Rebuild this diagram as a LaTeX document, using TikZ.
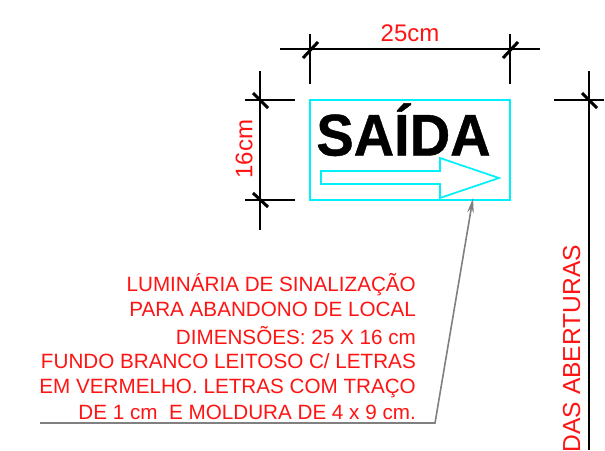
\documentclass[tikz,border=0pt]{standalone}
\usepackage{fontspec}
\setmainfont{Liberation Sans}
\usetikzlibrary{arrows.meta}
\definecolor{redtxt}{RGB}{255,20,20}
\definecolor{cyanln}{RGB}{0,240,250}
\definecolor{leadgray}{RGB}{128,128,128}
\tikzset{
  dimline/.style={draw=black,line width=1.6pt},
  dimtick/.style={draw=black,line width=3pt},
  signframe/.style={draw=cyanln,line width=1.7pt},
  redlabel/.style={text=redtxt,inner sep=0pt,font=\fontsize{24}{24}\selectfont},
  abertlabel/.style={text=redtxt,inner sep=0pt,font=\fontsize{24.6}{24.6}\selectfont},
  noteline/.style={text=redtxt,inner sep=0pt,anchor=base east,font=\fontsize{20.65}{20.65}\selectfont},
  leader/.style={draw=leadgray,line width=1.6pt}
}
\begin{document}
\begin{tikzpicture}[x=1pt,y=-1pt]
\useasboundingbox (0,0) rectangle (605,450);
\fill[white] (0,0) rectangle (605,450);
% coordinates
\coordinate (hl) at (280,49); \coordinate (hr) at (540,49);
\coordinate (v1t) at (310,34); \coordinate (v1b) at (310,84);
\coordinate (v2t) at (510,34); \coordinate (v2b) at (510,84);
\coordinate (lt) at (260,71); \coordinate (lb) at (260,230);
\coordinate (e1l) at (245,100); \coordinate (e1r) at (295,100);
\coordinate (e2l) at (245,200); \coordinate (e2r) at (295,200);
\coordinate (rt) at (589,71); \coordinate (rb) at (589,450);
\coordinate (e3l) at (554,100); \coordinate (e3r) at (604,100);
% dimension lines
\draw[dimline] (hl) -- (hr);
\draw[dimline] (v1t) -- (v1b);
\draw[dimline] (v2t) -- (v2b);
\draw[dimline] (lt) -- (lb);
\draw[dimline] (e1l) -- (e1r);
\draw[dimline] (e2l) -- (e2r);
\draw[dimline] (rt) -- (rb);
\draw[dimline] (e3l) -- (e3r);
\draw[dimtick] (303,58) -- (318,42);
\draw[dimtick] (503,58) -- (518,42);
\draw[dimtick] (253,93) -- (268,108);
\draw[dimtick] (253,193) -- (268,207);
\draw[dimtick] (582,93) -- (597,108);
% sign
\node[signframe,minimum width=200pt,minimum height=100pt,inner sep=0pt] (sign) at (410,150) {};
\node[inner sep=0pt,anchor=base,font=\fontsize{56}{56}\selectfont\bfseries\addfontfeature{FakeBold=0.8}] (saida) at (403.5,155.5) {\scalebox{1}[1.05]{SAÍDA}};
\draw[signframe] (321,171) -- (440,171) -- (440,158) -- (499,178) -- (440,198) -- (440,184) -- (321,184) -- cycle;
% labels
\node[redlabel] (w) at (410,33) {25cm};
\node[redlabel,rotate=90] (h) at (244,149) {16cm};
\node[abertlabel,rotate=90,anchor=base west] (das) at (580,452.5) {DAS ABERTURAS};
% note
\node[noteline] (n1) at (416,291) {LUMINÁRIA DE SINALIZAÇÃO};
\node[noteline] (n2) at (416,316) {PARA ABANDONO DE LOCAL};
\node[noteline] (n3) at (416,344) {DIMENSÕES: 25 X 16 cm};
\node[noteline] (n4) at (416,368) {FUNDO BRANCO LEITOSO C/ LETRAS};
\node[noteline] (n5) at (416,393) {EM VERMELHO. LETRAS COM TRAÇO};
\node[noteline] (n6) at (416,419) {DE 1 cm\ \ E MOLDURA DE 4 x 9 cm.};
% leader
\coordinate (la) at (40,423); \coordinate (lk) at (435,423); \coordinate (tip) at (473,198);
\draw[leader,-{Stealth[length=15pt,width=6.5pt]}] (la) -- (lk) -- (tip);
\end{tikzpicture}
\end{document}
